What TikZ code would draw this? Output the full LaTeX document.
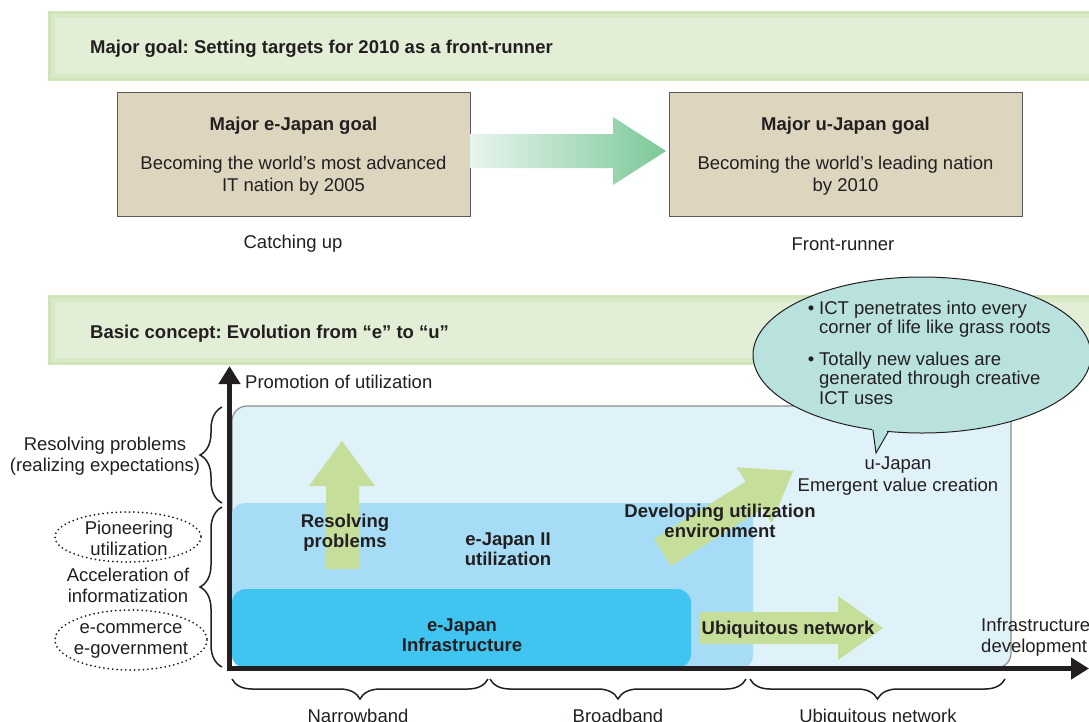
\documentclass[tikz,border=0pt]{standalone}
\usepackage{fontspec}
\setmainfont{Liberation Sans}
\frenchspacing
\usetikzlibrary{decorations.pathreplacing,arrows.meta}

\definecolor{ink}{HTML}{231F20}
\definecolor{bandA}{HTML}{CFE4B8}
\definecolor{bandB}{HTML}{D9EAC6}
\definecolor{bandC}{HTML}{E2EED5}
\definecolor{tan}{HTML}{DDD5BE}
\definecolor{boxline}{HTML}{5A5A5A}
\definecolor{arrowL}{HTML}{E8F5EE}
\definecolor{arrowR}{HTML}{7CC899}
\definecolor{callout}{HTML}{B9E1DD}
\definecolor{zoneU}{HTML}{DFF2FA}
\definecolor{zoneUline}{HTML}{8C8C8C}
\definecolor{zoneII}{HTML}{A7DCF7}
\definecolor{zoneE}{HTML}{3FC5F0}
\definecolor{leaf}{HTML}{C5DF9B}

\tikzset{
  lbl/.style={inner sep=0pt, text=ink, align=center, font=\fontsize{18.5}{21}\selectfont},
  blbl/.style={inner sep=0pt, text=ink, align=center, font=\fontsize{18.5}{20}\selectfont\bfseries},
  goalbox/.style={draw=boxline, line width=1pt, fill=tan, minimum width=353pt, minimum height=124pt, inner sep=0pt},
  bracelineV/.style={draw=ink, line width=1.5pt, decorate, decoration={brace, amplitude=22pt}},
  bracelineH/.style={draw=ink, line width=1.5pt, decorate, decoration={brace, amplitude=20pt}},
  dotring/.style={draw=ink, line width=2pt, line cap=round, dash pattern=on 0pt off 4.4pt},
  axisline/.style={draw=ink, line width=4.5pt},
  blockarrow/.style={fill=leaf},
}

\begin{document}
\begin{tikzpicture}[x=1pt,y=-1pt]
\useasboundingbox (0,0) rectangle (1089,721);
\clip (0,0) rectangle (1089,721);

% ---------- upper band: major goal ----------
\fill[bandA] (48,11) rectangle (1089,81);
\fill[bandB] (51,14) rectangle (1089,78);
\fill[bandC] (55,18) rectangle (1089,74);
\node[blbl, anchor=west] (goal) at (90,48.5) {Major goal: Setting targets for 2010 as a front-runner};

% ---------- the two goal boxes ----------
\node[goalbox] (ebox) at (293.5,154) {};
\node[goalbox] (ubox) at (845.5,154) {};
\node[blbl] (etitle) at (293.5,126) {Major e-Japan goal};
\node[lbl, font=\fontsize{18.5}{22}\selectfont] (etext) at (293.5,176) {Becoming the world’s most advanced\\IT nation by 2005};
\node[blbl] (utitle) at (845.5,126) {Major u-Japan goal};
\node[lbl, font=\fontsize{18.5}{22}\selectfont] (utext) at (845.5,176) {Becoming the world’s leading nation\\by 2010};
\node[lbl] (catch) at (293,244) {Catching up};
\node[lbl] (front) at (843,244) {Front-runner};

% shaded block arrow between the goals
\shade[left color=arrowL, right color=arrowR]
  (470,134) -- (613,134) -- (613,117) -- (666,151) -- (613,185) -- (613,168) -- (470,168) -- cycle;

% ---------- lower band: basic concept ----------
\fill[bandA] (48,295) rectangle (1089,365);
\fill[bandB] (51,298) rectangle (1089,362);
\fill[bandC] (55,302) rectangle (1089,358);
\node[blbl, anchor=west] (concept) at (90,333.5) {Basic concept: Evolution from “e” to “u”};

% ---------- nested zones ----------
\filldraw[fill=zoneU, draw=zoneUline, line width=1.2pt, rounded corners=15pt] (232,406) rectangle (1011,668);
\fill[zoneII, rounded corners=12pt] (232,503) rectangle (753,668);
\fill[zoneE, rounded corners=14pt] (232,589) rectangle (691,668);

% ---------- green block arrows ----------
\fill[blockarrow] (326,569) -- (326,486) -- (309,486) -- (342,441) -- (375,486) -- (359,486) -- (359,569) -- cycle;
\fill[blockarrow] (699,612) -- (838,612) -- (838,596) -- (883,628) -- (838,660) -- (838,644) -- (699,644) -- cycle;
\begin{scope}[shift={(662.5,552.5)}, rotate=32]
  \fill[blockarrow] (0,16) -- (108,16) -- (108,33) -- (154,0) -- (108,-33) -- (108,-16) -- (0,-16) -- cycle;
\end{scope}

% ---------- zone labels ----------
\node[blbl] (resolve) at (345,533) {Resolving\\problems};
\node[blbl] (eii) at (508,549) {e-Japan II\\utilization};
\node[blbl] (develop) at (720,521) {Developing utilization\\environment};
\node[blbl] (einfra) at (462,635) {e-Japan\\Infrastructure};
\node[blbl] (ubinet) at (788,630) {Ubiquitous network};
\node[lbl, font=\fontsize{18.5}{22.5}\selectfont] (ujapan) at (898,476) {u-Japan\\Emergent value creation};

% ---------- callout ----------
\filldraw[fill=callout, draw=ink, line width=1pt] (922,355) ellipse [x radius=169, y radius=78];
\fill[callout] (871,423) -- (876,453) -- (890,425) -- cycle;
\draw[ink, line width=1pt] (872.9,429.7) -- (876,453) -- (888.4,431.4);
\node[lbl, anchor=base] (b1) at (811,314) {•};
\node[lbl, anchor=base] (b2) at (811,365) {•};
\node[lbl, anchor=north west, align=left, font=\fontsize{18.5}{19.5}\selectfont] (c1) at (819,300.5) {ICT penetrates into every\\corner of life like grass roots};
\node[lbl, anchor=north west, align=left, font=\fontsize{18.5}{19.5}\selectfont] (c2) at (819,351.5) {Totally new values are\\generated through creative\\ICT uses};

% ---------- axes ----------
\coordinate (ytop) at (229.5,366);
\coordinate (origin) at (229.5,668.5);
\coordinate (xend) at (1089,668.5);
\draw[axisline, {Triangle[length=18pt,width=21pt]}-{Triangle[length=18pt,width=21pt]}] (ytop) -- (origin) -- (xend);
\node[lbl, anchor=west] (yname) at (245,382) {Promotion of utilization};
\node[lbl, align=left, anchor=west] (xname) at (981,637) {Infrastructure\\development};

% ---------- left side braces and labels ----------
\draw[bracelineV] (222,503) -- (222,407);
\draw[bracelineV] (222,667) -- (222,507);
\node[lbl] (resolveL) at (105,456) {Resolving problems\\(realizing expectations)};
\node[lbl] (pioneer) at (129,538.5) {Pioneering\\utilization};
\draw[dotring] (128,537) ellipse [x radius=73, y radius=25];
\node[lbl] (accel) at (128,585) {Acceleration of\\informatization};
\node[lbl] (ecom) at (131,640.5) {e-commerce\\e-government};
\draw[dotring] (131,640) ellipse [x radius=76, y radius=30];

% ---------- bottom braces and labels ----------
\draw[bracelineH] (488,679) -- (232,679);
\draw[bracelineH] (746,679) -- (490,679);
\draw[bracelineH] (1005,679) -- (750,679);
\node[lbl, anchor=base] (narrow) at (358,722) {Narrowband};
\node[lbl, anchor=base] (broad) at (618,722) {Broadband};
\node[lbl, anchor=base] (ubiq) at (878,722) {Ubiquitous network};
\end{tikzpicture}
\end{document}
